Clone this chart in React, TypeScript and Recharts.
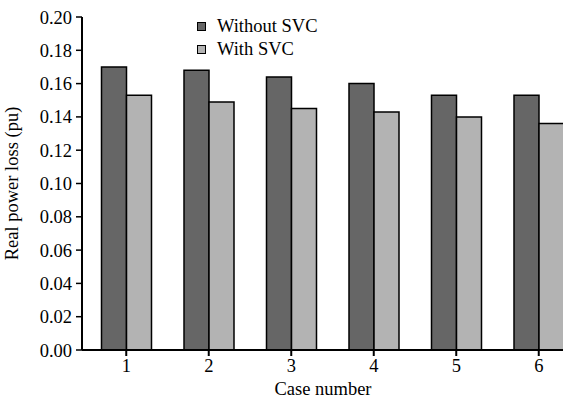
import { BarChart, Bar, XAxis, YAxis, Legend } from "recharts";

const cases = ["1", "2", "3", "4", "5", "6"];
const withoutSvc = [0.17, 0.168, 0.164, 0.16, 0.153, 0.153];
const withSvc = [0.153, 0.149, 0.145, 0.143, 0.14, 0.136];
const yTicks = [0, 0.02, 0.04, 0.06, 0.08, 0.1, 0.12, 0.14, 0.16, 0.18, 0.2];
const seriesOrder = ["without", "with"];

const data = cases.map((c, i) => ({
  name: c,
  without: withoutSvc[i],
  with: withSvc[i],
}));

const font = "'Liberation Serif', serif";
const fs = 18.5;
const DARK = "#666666";
const LIGHT = "#b3b3b3";

const LegendBox = ({ payload }: any) => {
  const items = [...(payload || [])].sort(
    (a: any, b: any) => seriesOrder.indexOf(a.dataKey) - seriesOrder.indexOf(b.dataKey)
  );
  return (
    <div style={{ fontFamily: font, fontSize: fs, lineHeight: "23px", color: "#000" }}>
      {items.map((p: any) => (
        <div key={p.value} style={{ display: "flex", alignItems: "center" }}>
          <span
            style={{
              display: "inline-block",
              width: 7,
              height: 7,
              background: p.color,
              border: "1.5px solid #000",
              marginRight: 11,
            }}
          />
          {p.value}
        </div>
      ))}
    </div>
  );
};

export default function App() {
  return (
    <div style={{ width: 563, height: 398, overflow: "hidden", background: "#fff", fontFamily: font }}>
      <style>{`body{margin:0}`}</style>
      <BarChart
        width={580}
        height={398}
        data={data}
        margin={{ top: 17, right: 0, bottom: 0, left: 0 }}
        barCategoryGap="20%"
        barGap={0}
      >
        <XAxis
          dataKey="name"
          height={48}
          padding={{ left: 3, right: 0 }}
          tick={{ fill: "#000", fontSize: fs, fontFamily: font }}
          tickLine={{ stroke: "#000", strokeWidth: 2 }}
          tickSize={6}
          tickMargin={3}
          axisLine={{ stroke: "#000", strokeWidth: 2 }}
          label={{
            value: "Case number",
            position: "insideBottom",
            offset: 3,
            fill: "#000",
            fontSize: fs,
            fontFamily: font,
            dx: -8,
          }}
        />
        <YAxis
          width={82}
          domain={[0, 0.2]}
          ticks={yTicks}
          interval={0}
          tickFormatter={(v: number) => v.toFixed(2)}
          tick={{ fill: "#000", fontSize: fs, fontFamily: font }}
          tickLine={{ stroke: "#000", strokeWidth: 1.5 }}
          tickSize={6}
          tickMargin={4}
          axisLine={{ stroke: "#000", strokeWidth: 2 }}
          label={{
            value: "Real power loss (pu)",
            angle: -90,
            position: "insideLeft",
            offset: 11,
            fill: "#000",
            fontSize: fs,
            fontFamily: font,
            style: { textAnchor: "middle" },
          }}
        />
        <Legend
          layout="vertical"
          verticalAlign="middle"
          align="center"
          wrapperStyle={{ left: 197, top: 15, width: 200 }}
          content={LegendBox}
        />
        <Bar
          dataKey="without"
          name="Without SVC"
          fill={DARK}
          stroke="#000"
          strokeWidth={1.5}
          isAnimationActive={false}
        />
        <Bar
          dataKey="with"
          name="With SVC"
          fill={LIGHT}
          stroke="#000"
          strokeWidth={1.5}
          isAnimationActive={false}
        />
      </BarChart>
    </div>
  );
}
